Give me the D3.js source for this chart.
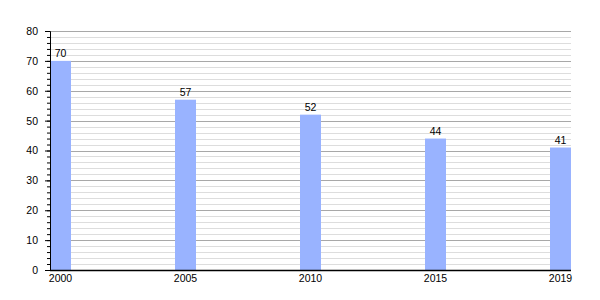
<!DOCTYPE html>
<html>
<head>
<meta charset="utf-8">
<script src="https://cdn.jsdelivr.net/npm/d3@7"></script>
<style>
  body { margin: 0; background: #fff; }
  text { font-family: "Liberation Sans", Arial, sans-serif; fill: #000; }
</style>
</head>
<body>
<svg class="d3-svg"></svg>
<script>
let years  = ["2000", "2005", "2010", "2015", "2019"];
let values = [70, 57, 52, 44, 41];
let yTicks = [0, 10, 20, 30, 40, 50, 60, 70, 80];

let width  = 600;
let height = 300;
let plotLeft = 50, plotRight = 571, plotTop = 31, plotBottom = 270;

let svg = d3.select(".d3-svg").attr("width", width).attr("height", height);

let x = d3.scaleBand().domain(years).range([plotLeft, plotRight]).paddingInner(0.832).paddingOuter(0);
let y = d3.scaleLinear().domain([0, 80]).range([plotBottom, plotTop]);

// minor grid every 2
let minor = d3.range(2, 81, 2).filter(d => d % 10 !== 0);
svg.append("g").selectAll("line").data(minor).join("line")
  .attr("x1", plotLeft).attr("x2", plotRight)
  .attr("y1", d => Math.round(y(d)) + 0.5).attr("y2", d => Math.round(y(d)) + 0.5)
  .attr("stroke", "#dddddd").attr("stroke-width", 1);

// major grid
svg.append("g").selectAll("line").data(yTicks.slice(1)).join("line")
  .attr("x1", plotLeft).attr("x2", plotRight)
  .attr("y1", d => Math.round(y(d)) + 0.5).attr("y2", d => Math.round(y(d)) + 0.5)
  .attr("stroke", "#a8a8a8").attr("stroke-width", 1);

// bars
svg.append("g").selectAll("rect").data(values).join("rect")
  .attr("x", (d, i) => x(years[i]))
  .attr("y", d => y(d))
  .attr("width", x.bandwidth())
  .attr("height", d => y(0) - y(d))
  .attr("fill", "#99b3ff");

// value labels
svg.append("g").selectAll("text").data(values).join("text")
  .attr("x", (d, i) => x(years[i]) + x.bandwidth() / 2)
  .attr("y", d => y(d) - 4)
  .attr("text-anchor", "middle")
  .attr("font-size", 10.5)
  .text(d => d);

// y axis with minor ticks
let yAxis = svg.append("g").attr("class", "y-axis")
  .attr("transform", "translate(" + plotLeft + ",0)");
yAxis.call(d3.axisLeft(y).tickValues(d3.range(0, 81, 2)).tickSize(3).tickFormat(""));
yAxis.append("g").call(d3.axisLeft(y).tickValues(yTicks).tickSize(5).tickPadding(7))
  .call(g => g.select(".domain").remove());
yAxis.selectAll("path, line").attr("stroke", "#000");
yAxis.selectAll("text").attr("font-size", 10.5).attr("fill", "#000");

// x axis line
svg.append("line")
  .attr("x1", plotLeft).attr("x2", plotRight)
  .attr("y1", y(0) + 0.5).attr("y2", y(0) + 0.5)
  .attr("stroke", "#000").attr("stroke-width", 1.5);

// x labels
svg.append("g").selectAll("text").data(years).join("text")
  .attr("x", d => x(d) + x.bandwidth() / 2)
  .attr("y", plotBottom + 12)
  .attr("text-anchor", "middle")
  .attr("font-size", 10.5)
  .text(d => d);
</script>
</body>
</html>
